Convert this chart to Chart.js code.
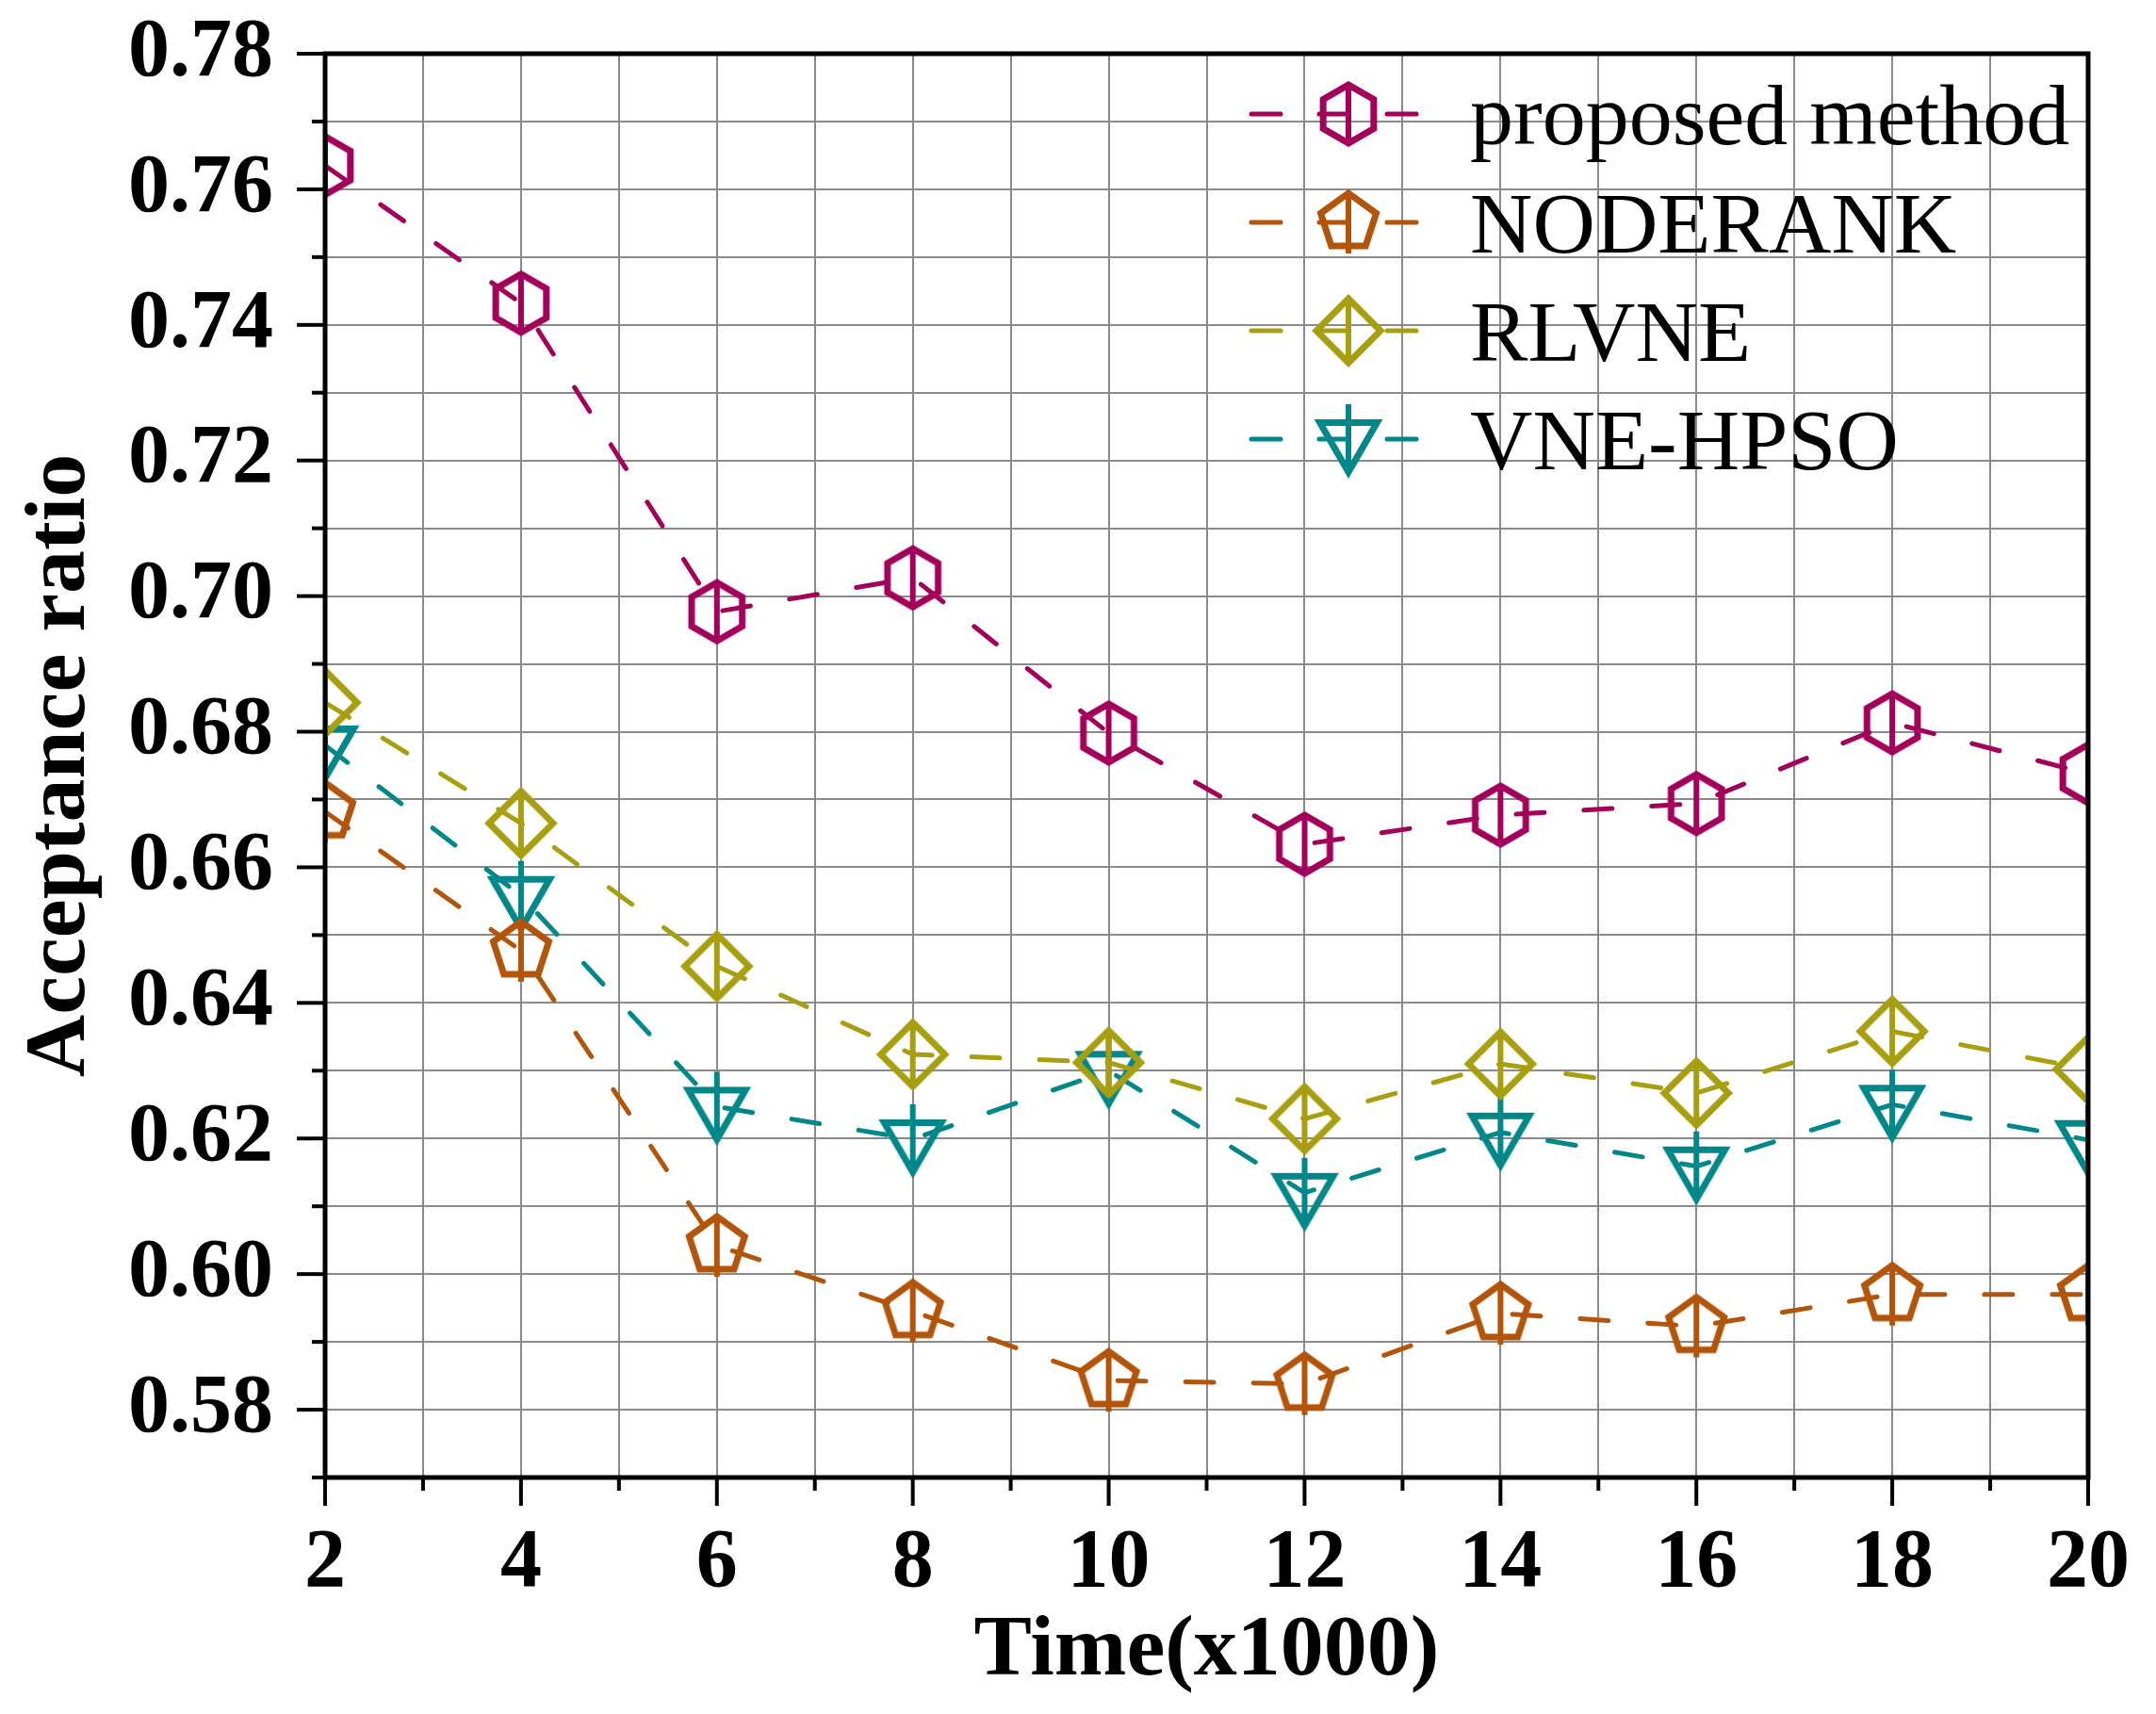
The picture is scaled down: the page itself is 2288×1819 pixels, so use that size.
<!DOCTYPE html>
<html>
<head>
<meta charset="utf-8">
<script src="https://cdn.jsdelivr.net/npm/chart.js@4.4.1/dist/chart.umd.min.js"></script>
<style>
  html, body { margin: 0; padding: 0; background: #ffffff; }
  canvas { display: block; }
</style>
</head>
<body>
<canvas id="acceptanceChart" width="2288" height="1819"></canvas>
<script>
// acceptance ratio vs time

const times = [2, 4, 6, 8, 10, 12, 14, 16, 18, 20];
const proposedMethod = [0.7635, 0.7432, 0.6977, 0.7027, 0.6798, 0.6634, 0.6677, 0.6694, 0.6813, 0.6738];
const nodeRank = [0.6682, 0.6477, 0.6042, 0.5945, 0.5843, 0.5838, 0.5942, 0.5923, 0.5970, 0.5970];
const rlvne = [0.6843, 0.6665, 0.6454, 0.6324, 0.6312, 0.6229, 0.6310, 0.6267, 0.6358, 0.6302];
const vneHpso = [0.6780, 0.6558, 0.6247, 0.6199, 0.6300, 0.6120, 0.6209, 0.6159, 0.6250, 0.6198];

const seriesNames = ["proposed method", "NODERANK", "RLVNE", "VNE-HPSO"];
const seriesColors = ["#a2005a", "#b3540b", "#a89f10", "#00878a"];
const seriesShapes = ["hexagon", "pentagon", "diamond", "triangleDown"];

const xTickLabels = [2, 4, 6, 8, 10, 12, 14, 16, 18, 20];
const yTickLabels = [0.58, 0.60, 0.62, 0.64, 0.66, 0.68, 0.70, 0.72, 0.74, 0.76, 0.78];

const SERIF = "'Liberation Serif', 'Times New Roman', serif";

// hollow marker with a vertical bar through it
function makeMarker(shape, color) {
  const size = 100;
  const c = size / 2;
  const cv = document.createElement("canvas");
  cv.width = size;
  cv.height = size;
  const g = cv.getContext("2d");
  g.strokeStyle = color;
  g.lineWidth = 7;
  g.lineJoin = "miter";
  g.lineCap = "butt";
  let pts = [];
  let r = 31;
  if (shape === "hexagon") {
    for (let i = 0; i < 6; i++) {
      const a = -Math.PI / 2 + i * Math.PI / 3;
      pts.push([c + r * Math.cos(a), c + r * Math.sin(a)]);
    }
  } else if (shape === "pentagon") {
    for (let i = 0; i < 5; i++) {
      const a = -Math.PI / 2 + i * 2 * Math.PI / 5;
      pts.push([c + r * Math.cos(a), c + r * Math.sin(a)]);
    }
  } else if (shape === "diamond") {
    r = 34;
    pts = [[c, c - r], [c + r, c], [c, c + r], [c - r, c]];
  } else {
    r = 35;
    for (let i = 0; i < 3; i++) {
      const a = Math.PI / 2 + i * 2 * Math.PI / 3;
      pts.push([c + r * Math.cos(a), c + r * Math.sin(a)]);
    }
  }
  g.beginPath();
  pts.forEach((p, i) => (i === 0 ? g.moveTo(p[0], p[1]) : g.lineTo(p[0], p[1])));
  g.closePath();
  g.stroke();
  g.lineWidth = 6;
  g.beginPath();
  g.moveTo(c, c - r - 2);
  g.lineTo(c, c + r + 2);
  g.stroke();
  return cv;
}

const seriesValues = [proposedMethod, nodeRank, rlvne, vneHpso];
const markers = seriesShapes.map((s, i) => makeMarker(s, seriesColors[i]));

const datasets = seriesValues.map((vals, i) => ({
  label: seriesNames[i],
  data: times.map((t, j) => ({ x: t, y: vals[j] })),
  borderColor: seriesColors[i],
  backgroundColor: "transparent",
  borderWidth: 5,
  borderDash: [30, 42],
  borderCapStyle: "round",
  tension: 0,
  fill: false,
  pointStyle: markers[i],
  pointRadius: 35,
  pointHoverRadius: 35,
}));

// legend sits inside the plot, top right
const insideLegend = {
  id: "insideLegend",
  afterDatasetsDraw(chart) {
    const { ctx, chartArea } = chart;
    const lineStart = chartArea.right - 891;
    const lineEnd = chartArea.right - 711;
    const markerX = chartArea.right - 785;
    const textX = chartArea.right - 656;
    ctx.save();
    chart.data.datasets.forEach((ds, i) => {
      const cy = chartArea.top + 64 + i * 115;
      ctx.strokeStyle = ds.borderColor;
      ctx.lineWidth = 5;
      ctx.lineCap = "round";
      ctx.setLineDash([31, 41]);
      ctx.beginPath();
      ctx.moveTo(lineStart + 3, cy);
      ctx.lineTo(lineEnd, cy);
      ctx.stroke();
      ctx.setLineDash([]);
      const m = ds.pointStyle;
      ctx.drawImage(m, markerX - m.width / 2, cy - m.height / 2);
      ctx.fillStyle = "#000000";
      ctx.font = "92px " + SERIF;
      ctx.textAlign = "left";
      ctx.textBaseline = "alphabetic";
      ctx.fillText(ds.label, textX, cy + 32);
    });
    ctx.restore();
  },
};

// outward tick marks (long at labelled values) and the closed frame
const axisFrame = {
  id: "axisFrame",
  afterDraw(chart) {
    const { ctx, chartArea: a, scales } = chart;
    ctx.save();
    ctx.strokeStyle = "#000000";
    ctx.lineWidth = 4;
    ctx.lineCap = "butt";
    scales.y.ticks.forEach((t) => {
      const py = scales.y.getPixelForValue(t.value);
      const len = t.label ? 30 : 14;
      ctx.beginPath();
      ctx.moveTo(a.left - len, py);
      ctx.lineTo(a.left, py);
      ctx.stroke();
    });
    scales.x.ticks.forEach((t) => {
      const px = scales.x.getPixelForValue(t.value);
      const len = t.label ? 30 : 14;
      ctx.beginPath();
      ctx.moveTo(px, a.bottom);
      ctx.lineTo(px, a.bottom + len);
      ctx.stroke();
    });
    ctx.lineWidth = 5;
    ctx.strokeRect(a.left, a.top, a.right - a.left, a.bottom - a.top);
    ctx.restore();
  },
};

// fixed axis boxes so the plot area lands where the original has it
function fixBox(scale, size) {
  if (scale.isHorizontal()) scale.height = size;
  else scale.width = size;
  scale.paddingTop = 0;
  scale.paddingBottom = 0;
  scale.paddingLeft = 0;
  scale.paddingRight = 0;
}

const ctx = document.getElementById("acceptanceChart").getContext("2d");

new Chart(ctx, {
  type: "line",
  data: { datasets: datasets },
  options: {
    responsive: false,
    animation: false,
    devicePixelRatio: 1,
    layout: { padding: { top: 57, right: 72, bottom: 0, left: 0 } },
    plugins: {
      legend: { display: false },
      tooltip: { enabled: false },
    },
    scales: {
      x: {
        type: "linear",
        min: 2,
        max: 20,
        afterFit: (scale) => fixBox(scale, 251),
        border: { display: false },
        grid: { color: "#8a8a8a", lineWidth: 2, drawTicks: false },
        ticks: {
          stepSize: 1,
          autoSkip: false,
          maxRotation: 0,
          padding: 39,
          color: "#000000",
          font: { family: SERIF, size: 88, weight: "bold" },
          callback: (value) => (xTickLabels.includes(Math.round(value)) ? String(Math.round(value)) : ""),
        },
        title: {
          display: true,
          text: "Time(x1000)",
          color: "#000000",
          padding: { top: 0, bottom: 11 },
          font: { family: SERIF, size: 92, weight: "bold" },
        },
      },
      y: {
        type: "linear",
        min: 0.57,
        max: 0.78,
        afterFit: (scale) => fixBox(scale, 345),
        border: { display: false },
        grid: { color: "#8a8a8a", lineWidth: 2, drawTicks: false },
        ticks: {
          stepSize: 0.01,
          autoSkip: false,
          padding: 55,
          color: "#000000",
          font: { family: SERIF, size: 88, weight: "bold" },
          callback: (value) => {
            const v = Math.round(value * 100) / 100;
            return yTickLabels.includes(v) ? v.toFixed(2) : "";
          },
        },
        title: {
          display: true,
          text: "Acceptance ratio",
          color: "#000000",
          padding: { top: 10, bottom: 0 },
          font: { family: SERIF, size: 92, weight: "bold" },
        },
      },
    },
  },
  plugins: [insideLegend, axisFrame],
});
</script>
</body>
</html>
